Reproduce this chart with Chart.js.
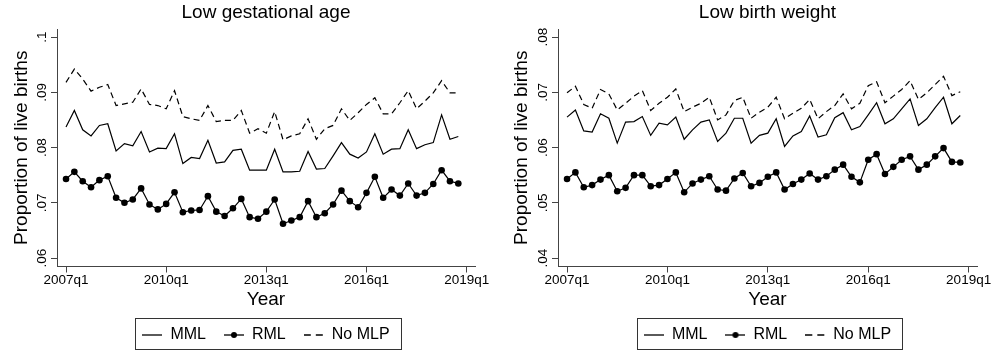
<!DOCTYPE html>
<html>
<head>
<meta charset="utf-8">
<script src="https://cdn.jsdelivr.net/npm/chart.js@4"></script>
<style>
  html, body { margin: 0; padding: 0; background: #fff; }
  #wrap { position: relative; width: 993px; height: 350px; }
  .panel { position: absolute; top: 0; height: 350px; }
</style>
</head>
<body>
<div id="wrap">
  <div class="panel" style="left:0;width:496px"><canvas id="lga" width="496" height="350"></canvas></div>
  <div class="panel" style="left:496px;width:497px"><canvas id="lbw" width="497" height="350"></canvas></div>
</div>
<script>
// quarters 2007q1 .. 2018q4
const quarters = [];
for (let yr = 2007; yr <= 2018; yr++) for (let q = 1; q <= 4; q++) quarters.push(yr + 'q' + q);

const xTickPos = [0, 12, 24, 36, 48];
const xTickLabels = ['2007q1', '2010q1', '2013q1', '2016q1', '2019q1'];

// Low gestational age
const lgaMML = [0.0837,0.0867,0.0832,0.0821,0.0840,0.0843,0.0794,0.0807,0.0803,0.0829,
  0.0792,0.0799,0.0798,0.0825,0.0771,0.0782,0.0780,0.0813,0.0772,0.0774,
  0.0795,0.0797,0.0759,0.0759,0.0759,0.0797,0.0756,0.0756,0.0757,0.0793,
  0.0761,0.0762,0.0785,0.0809,0.0788,0.0781,0.0792,0.0825,0.0788,0.0797,
  0.0798,0.0832,0.0798,0.0805,0.0809,0.0859,0.0815,0.0820];
const lgaRML = [0.0743,0.0756,0.0739,0.0728,0.0741,0.0748,0.0709,0.0700,0.0706,0.0726,
  0.0697,0.0688,0.0698,0.0719,0.0683,0.0686,0.0687,0.0712,0.0684,0.0676,
  0.0690,0.0707,0.0674,0.0671,0.0684,0.0706,0.0662,0.0668,0.0674,0.0703,
  0.0674,0.0681,0.0697,0.0722,0.0703,0.0692,0.0718,0.0747,0.0709,0.0724,
  0.0713,0.0735,0.0713,0.0718,0.0734,0.0759,0.0739,0.0735];
const lgaNoMLP = [0.0918,0.0942,0.0924,0.0902,0.0909,0.0914,0.0876,0.0879,0.0882,0.0906,
  0.0878,0.0876,0.0870,0.0903,0.0856,0.0852,0.0849,0.0876,0.0847,0.0849,
  0.0849,0.0867,0.0826,0.0834,0.0826,0.0865,0.0814,0.0821,0.0825,0.0852,
  0.0815,0.0834,0.0840,0.0870,0.0849,0.0863,0.0878,0.0890,0.0861,0.0861,
  0.0881,0.0903,0.0870,0.0884,0.0899,0.0921,0.0899,0.0899];
const lgaTicks = [0.06, 0.07, 0.08, 0.09, 0.1];

// Low birth weight
const lbwMML = [0.0655,0.0668,0.0630,0.0628,0.0661,0.0653,0.0608,0.0646,0.0647,0.0656,
  0.0622,0.0644,0.0641,0.0655,0.0615,0.0632,0.0646,0.0650,0.0611,0.0626,
  0.0653,0.0653,0.0608,0.0622,0.0626,0.0652,0.0602,0.0621,0.0629,0.0657,
  0.0619,0.0623,0.0654,0.0663,0.0632,0.0638,0.0659,0.0681,0.0643,0.0652,
  0.0670,0.0688,0.0640,0.0652,0.0672,0.0691,0.0643,0.0658];
const lbwRML = [0.0543,0.0555,0.0528,0.0532,0.0542,0.0550,0.0521,0.0527,0.0550,0.0550,
  0.0530,0.0532,0.0543,0.0555,0.0519,0.0535,0.0542,0.0548,0.0524,0.0522,
  0.0544,0.0554,0.0530,0.0536,0.0547,0.0555,0.0524,0.0534,0.0542,0.0553,
  0.0542,0.0548,0.0560,0.0569,0.0547,0.0537,0.0578,0.0588,0.0552,0.0565,
  0.0578,0.0584,0.0560,0.0569,0.0584,0.0599,0.0574,0.0573];
const lbwNoMLP = [0.0699,0.0711,0.0678,0.0671,0.0705,0.0697,0.0668,0.0680,0.0693,0.0703,
  0.0667,0.0680,0.0691,0.0706,0.0665,0.0673,0.0680,0.0691,0.0650,0.0659,
  0.0685,0.0691,0.0653,0.0664,0.0673,0.0691,0.0652,0.0662,0.0671,0.0687,
  0.0652,0.0665,0.0676,0.0697,0.0670,0.0680,0.0712,0.0719,0.0681,0.0693,
  0.0705,0.0721,0.0687,0.0699,0.0714,0.0729,0.0694,0.0701];
const lbwTicks = [0.04, 0.05, 0.06, 0.07, 0.08];

const FONT = '"Liberation Sans", Arial, sans-serif';
const AXIS = '#444';
Chart.defaults.font.family = FONT;
Chart.defaults.color = '#000';

// little legend keys like Stata's
function keyIcon(kind) {
  const c = document.createElement('canvas');
  c.width = 20; c.height = 10;
  const g = c.getContext('2d');
  g.strokeStyle = '#000'; g.lineWidth = 1.3;
  g.beginPath();
  if (kind === 'dash') { g.moveTo(0, 5); g.lineTo(7, 5); g.moveTo(12, 5); g.lineTo(19, 5); }
  else { g.moveTo(0, 5); g.lineTo(20, 5); }
  g.stroke();
  if (kind === 'dot') { g.fillStyle = '#000'; g.beginPath(); g.arc(10, 5, 3, 0, Math.PI * 2); g.fill(); }
  return c;
}
const legendKeys = { 'MML': keyIcon('solid'), 'RML': keyIcon('dot'), 'No MLP': keyIcon('dash') };

const fmt = v => String(Math.round(v * 100) / 100).replace(/^0/, '');
const pts = arr => arr.map((v, i) => ({ x: i, y: v }));

// rotated y tick labels + box around legend
const stataBits = {
  id: 'stataBits',
  afterDraw(chart) {
    const ctx = chart.ctx, y = chart.scales.y;
    ctx.save();
    ctx.fillStyle = '#000';
    ctx.font = '13.5px ' + FONT;
    ctx.textAlign = 'center';
    ctx.textBaseline = 'middle';
    y.ticks.forEach(t => {
      ctx.save();
      ctx.translate(y.right - 15, y.getPixelForValue(t.value));
      ctx.rotate(-Math.PI / 2);
      ctx.fillText(fmt(t.value), 0, 0);
      ctx.restore();
    });
    const hb = chart.legend.legendHitBoxes;
    if (hb && hb.length) {
      const a = hb[0], b = hb[hb.length - 1];
      const x0 = Math.round(a.left - 7) + 0.5;
      const x1 = Math.round(b.left + b.width + 11) + 0.5;
      const y0 = Math.round(a.top - 9) + 0.5;
      ctx.strokeStyle = '#333';
      ctx.lineWidth = 1;
      ctx.strokeRect(x0, y0, x1 - x0, chart.height - 0.5 - y0);
    }
    ctx.restore();
  }
};

function panel(id, title, mml, rml, nomlp, yTicks, yMin, yMax, axisW, titlePad, padRight) {
  return new Chart(document.getElementById(id), {
    type: 'line',
    data: {
      datasets: [
        { label: 'MML', data: pts(mml), borderColor: '#000', borderWidth: 1.2, pointRadius: 0, tension: 0 },
        { label: 'RML', data: pts(rml), borderColor: '#000', borderWidth: 1.2, pointRadius: 3.3,
          pointBackgroundColor: '#000', pointBorderWidth: 0, tension: 0 },
        { label: 'No MLP', data: pts(nomlp), borderColor: '#000', borderWidth: 1.2, borderDash: [6, 4],
          pointRadius: 0, tension: 0 }
      ]
    },
    options: {
      responsive: false,
      animation: false,
      devicePixelRatio: 1,
      layout: { padding: { left: 0, right: padRight, top: 0, bottom: 0 } },
      scales: {
        x: {
          type: 'linear', min: -1.08, max: 49,
          afterBuildTicks: s => { s.ticks = xTickPos.map(v => ({ value: v })); },
          afterFit: s => { s.height = 42.5; s.paddingLeft = 0; s.paddingRight = 0; },
          ticks: { autoSkip: false, maxRotation: 0, padding: 0, color: '#000', font: { size: 13.5 },
                   callback: (v, i) => xTickLabels[i] },
          grid: { drawOnChartArea: false, drawTicks: true, tickLength: 6, color: AXIS },
          border: { display: true, color: AXIS, width: 1 },
          title: { display: true, text: 'Year', color: '#000', font: { size: 19, lineHeight: 1 },
                   padding: { top: 2, bottom: 0 } }
        },
        y: {
          min: yMin, max: yMax,
          afterBuildTicks: s => { s.ticks = yTicks.map(v => ({ value: v })); },
          afterFit: s => { s.width = axisW; s.paddingTop = 0; s.paddingBottom = 0; },
          ticks: { display: false },
          grid: { drawOnChartArea: false, drawTicks: true, tickLength: 6, color: AXIS },
          border: { display: true, color: AXIS, width: 1 },
          title: { display: true, text: 'Proportion of live births', color: '#000',
                   font: { size: 19, lineHeight: 1 }, padding: { top: titlePad, bottom: 0 } }
        }
      },
      plugins: {
        title: { display: true, text: title, fullSize: false, color: '#000',
                 font: { size: 19, weight: 'normal', lineHeight: 1 }, padding: { top: 3, bottom: 7 } },
        legend: {
          position: 'bottom', fullSize: false, maxHeight: 41,
          labels: {
            usePointStyle: true, pointStyleWidth: 20, padding: 18, color: '#000', font: { size: 16 },
            generateLabels: ch => Chart.defaults.plugins.legend.labels.generateLabels(ch)
              .map(it => Object.assign(it, { pointStyle: legendKeys[it.text] }))
          }
        },
        tooltip: { enabled: false }
      }
    },
    plugins: [stataBits]
  });
}

panel('lga', 'Low gestational age', lgaMML, lgaRML, lgaNoMLP, lgaTicks, 0.05847, 0.10145, 57, 12.5, 21);
panel('lbw', 'Low birth weight', lbwMML, lbwRML, lbwNoMLP, lbwTicks, 0.03847, 0.08145, 62, 16.5, 16);
</script>
</body>
</html>
